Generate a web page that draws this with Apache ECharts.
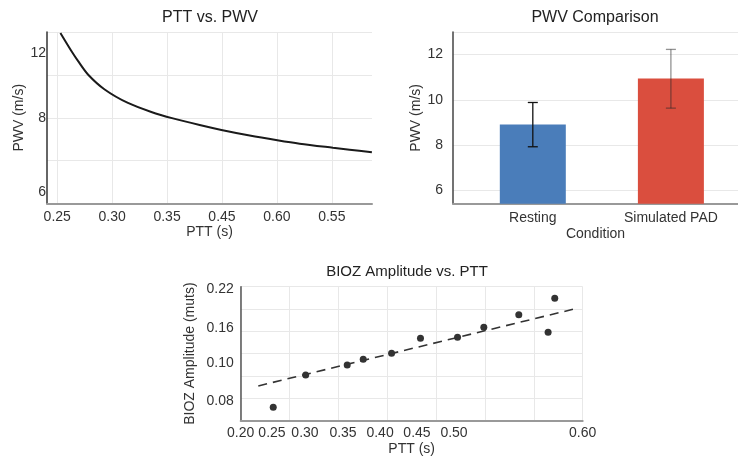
<!DOCTYPE html>
<html>
<head>
<meta charset="utf-8">
<script src="https://cdn.jsdelivr.net/npm/echarts@6/dist/echarts.min.js"></script>
<style>html,body{margin:0;padding:0;background:#fff;}#c{width:738px;height:459px;}</style>
</head>
<body>
<div id="c"></div>
<script>
// ---- Panel 1: PTT vs. PWV ----
const curvePTT = [0.2529, 0.2629, 0.2689, 0.2780, 0.2932, 0.3144, 0.3357, 0.3554, 0.3797, 0.3995, 0.4252, 0.4504, 0.4707, 0.5010, 0.5162, 0.5365];
const curvePWV = [11.95, 11.11, 10.65, 10.02, 9.32, 8.69, 8.27, 7.97, 7.66, 7.43, 7.17, 6.95, 6.79, 6.60, 6.51, 6.39];
const curveXTickValues = [0.25, 0.30, 0.35, 0.40, 0.45, 0.50];
const curveXTickLabels = ['0.25', '0.30', '0.35', '0.45', '0.60', '0.55'];
const curveYTickValues = [11.0, 8.0, 4.55];
const curveYTickLabels = ['12', '8', '6'];

// ---- Panel 2: PWV Comparison ----
const conditions = ['Resting', 'Simulated PAD'];
const meanPWV = [8.91, 10.94];
const errLow = [7.92, 9.63];
const errHigh = [9.88, 12.23];
const barYTickValues = [6, 8, 10, 12];

// ---- Panel 3: BIOZ Amplitude vs. PTT ----
const biozPTT = [0.2333, 0.2665, 0.309, 0.3254, 0.3544, 0.384, 0.4219, 0.4488, 0.4846, 0.5146, 0.5214];
const biozAmp = [0.1118, 0.1408, 0.1498, 0.1549, 0.1603, 0.1737, 0.1746, 0.1836, 0.1949, 0.1791, 0.2096];
const trendPTT = [0.218, 0.540];
const trendAmp = [0.131, 0.1997];
const biozXTickValues = [0.20, 0.232, 0.2658, 0.3047, 0.3426, 0.3804, 0.4183, 0.55];
const biozXTickLabels = ['0.20', '0.25', '0.30', '0.35', '0.40', '0.45', '0.50', '0.60'];
const biozYTickValues = [0.2175, 0.1825, 0.1511, 0.1170];
const biozYTickLabels = ['0.22', '0.16', '0.10', '0.08'];

const FONT = 'Liberation Sans, Arial, Helvetica, sans-serif';
const TXT = '#333';
const GRIDC = '#e8e8e8';

function labelMap(values, labels) {
  return function (v) {
    let best = 0, bd = Infinity;
    for (let i = 0; i < values.length; i++) {
      const d = Math.abs(values[i] - v);
      if (d < bd) { bd = d; best = i; }
    }
    return labels[best];
  };
}
const zip = (a, b) => a.map((v, i) => [v, b[i]]);

const chart = echarts.init(document.getElementById('c'), null, { renderer: 'canvas' });

const axLabel = { color: TXT, fontSize: 14, fontFamily: FONT };
const axName = { color: TXT, fontSize: 14, fontFamily: FONT };

const option = {
  animation: false,
  backgroundColor: '#fff',
  title: [
    { text: 'PTT vs. PWV', left: 210, top: 10, textAlign: 'center', padding: 0,
      textStyle: { fontSize: 16, fontWeight: 'normal', color: '#222', fontFamily: FONT } },
    { text: 'PWV Comparison', left: 595, top: 10, textAlign: 'center', padding: 0,
      textStyle: { fontSize: 16, fontWeight: 'normal', color: '#222', fontFamily: FONT } },
    { text: 'BIOZ Amplitude vs. PTT', left: 407, top: 264, textAlign: 'center', padding: 0,
      textStyle: { fontSize: 15, fontWeight: 'normal', color: '#222', fontFamily: FONT } }
  ],
  grid: [
    { left: 47, right: 366, top: 32, bottom: 255.5 },
    { left: 453, right: 0, top: 32, bottom: 255.3 },
    { left: 240.7, right: 155.3, top: 286.7, bottom: 38.5 }
  ],
  xAxis: [
    { gridIndex: 0, type: 'value', min: 0.2407, max: 0.5366,
      name: 'PTT (s)', nameLocation: 'middle', nameGap: 22, nameTextStyle: axName,
      axisLine: { onZero: false, lineStyle: { color: '#999', width: 2 } },
      axisTick: { show: false, customValues: curveXTickValues },
      axisLabel: Object.assign({ margin: 7, customValues: curveXTickValues,
        formatter: labelMap(curveXTickValues, curveXTickLabels) }, axLabel),
      splitLine: { show: true, lineStyle: { color: GRIDC } } },
    { gridIndex: 1, type: 'value', min: -0.578, max: 1.486,
      name: 'Condition', nameLocation: 'middle', nameGap: 23, nameTextStyle: axName,
      axisLine: { onZero: false, lineStyle: { color: '#999', width: 2 } },
      axisTick: { show: false, customValues: [0, 1] },
      axisLabel: Object.assign({ margin: 7, customValues: [0, 1],
        formatter: labelMap([0, 1], conditions) }, axLabel),
      splitLine: { show: false } },
    { gridIndex: 2, type: 'value', min: 0.20, max: 0.55, interval: 0.05,
      name: 'PTT (s)', nameLocation: 'middle', nameGap: 22, nameTextStyle: axName,
      axisLine: { onZero: false, lineStyle: { color: '#999', width: 2 } },
      axisTick: { show: false },
      axisLabel: Object.assign({ margin: 6, customValues: biozXTickValues,
        formatter: labelMap(biozXTickValues, biozXTickLabels) }, axLabel),
      splitLine: { show: true, lineStyle: { color: GRIDC } } }
  ],
  yAxis: [
    { gridIndex: 0, type: 'value', min: 4, max: 12, interval: 2,
      name: 'PWV (m/s)', nameLocation: 'middle', nameGap: 19, nameTextStyle: axName,
      axisLine: { show: true, onZero: false, lineStyle: { color: '#333', width: 1.5 } },
      axisTick: { show: false },
      axisLabel: Object.assign({ margin: 1, customValues: curveYTickValues,
        formatter: labelMap(curveYTickValues, curveYTickLabels) }, axLabel),
      splitLine: { show: true, lineStyle: { color: GRIDC } } },
    { gridIndex: 1, type: 'value', min: 5.4, max: 13,
      name: 'PWV (m/s)', nameLocation: 'middle', nameGap: 26, nameTextStyle: axName,
      axisLine: { show: true, onZero: false, lineStyle: { color: '#444', width: 1.5 } },
      axisTick: { show: false, customValues: [6, 8, 10, 12, 13] },
      axisLabel: Object.assign({ margin: 10, customValues: barYTickValues,
        formatter: (v) => String(Math.round(v)) }, axLabel),
      splitLine: { show: true, lineStyle: { color: GRIDC } } },
    { gridIndex: 2, type: 'value', min: 0.10, max: 0.22, interval: 0.02,
      name: 'BIOZ Amplitude (muts)', nameLocation: 'middle', nameGap: 44, nameTextStyle: axName,
      axisLine: { show: true, onZero: false, lineStyle: { color: '#555', width: 1.5 } },
      axisTick: { show: false },
      axisLabel: Object.assign({ margin: 7, customValues: biozYTickValues,
        formatter: labelMap(biozYTickValues, biozYTickLabels) }, axLabel),
      splitLine: { show: true, lineStyle: { color: GRIDC } } }
  ],
  series: [
    { type: 'line', xAxisIndex: 0, yAxisIndex: 0, data: zip(curvePTT, curvePWV),
      smooth: 0.3, showSymbol: false, symbol: 'none',
      lineStyle: { color: '#1a1a1a', width: 2 } },
    { type: 'bar', xAxisIndex: 1, yAxisIndex: 1, barWidth: 66,
      data: [
        { value: [0, meanPWV[0]], itemStyle: { color: '#4a7dba' } },
        { value: [1, meanPWV[1]], itemStyle: { color: '#da4e3e' } }
      ] },
    { type: 'custom', xAxisIndex: 1, yAxisIndex: 1, z: 10,
      data: conditions.map((c, i) => [i, errLow[i], errHigh[i]]),
      renderItem: function (params, api) {
        const i = api.value(0);
        const lo = api.coord([i, api.value(1)]);
        const hi = api.coord([i, api.value(2)]);
        const w = 5;
        const col = i === 0 ? '#111' : 'rgba(40,40,40,0.5)';
        const st = { stroke: col, lineWidth: 1.3 };
        return { type: 'group', children: [
          { type: 'line', shape: { x1: lo[0], y1: lo[1], x2: hi[0], y2: hi[1] }, style: st },
          { type: 'line', shape: { x1: lo[0] - w, y1: lo[1], x2: lo[0] + w, y2: lo[1] }, style: st },
          { type: 'line', shape: { x1: hi[0] - w, y1: hi[1], x2: hi[0] + w, y2: hi[1] }, style: st }
        ] };
      } },
    { type: 'line', xAxisIndex: 2, yAxisIndex: 2, data: zip(trendPTT, trendAmp),
      showSymbol: false, symbol: 'none',
      lineStyle: { color: '#333', width: 1.6, type: [9, 6] } },
    { type: 'scatter', xAxisIndex: 2, yAxisIndex: 2, data: zip(biozPTT, biozAmp),
      symbolSize: 7, itemStyle: { color: '#000' } }
  ]
};
chart.setOption(option);
</script>
</body>
</html>
